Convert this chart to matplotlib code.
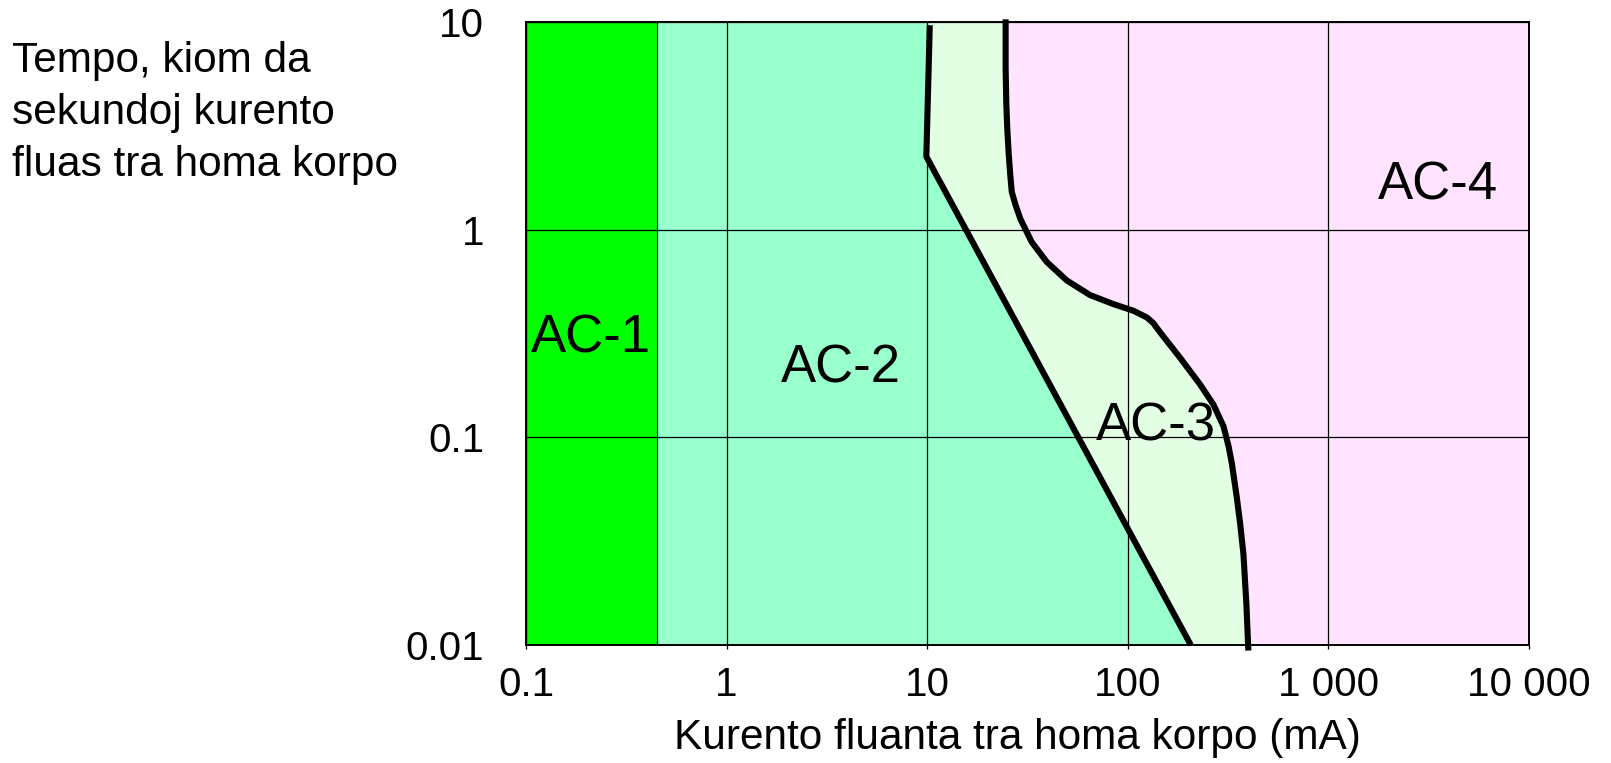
import matplotlib
matplotlib.use("Agg")
import matplotlib.pyplot as plt

plt.rcParams["font.family"] = ["Liberation Sans", "DejaVu Sans"]

# axis ranges (mA, s)
x_lim = [0.1, 10000]
y_lim = [0.01, 10]
x_ticks = [0.1, 1, 10, 100, 1000, 10000]
x_tick_labels = ["0.1", "1", "10", "100", "1 000", "10 000"]
y_ticks = [0.01, 0.1, 1, 10]
y_tick_labels = ["0.01", "0.1", "1", "10"]

# AC-1 upper limit (mA)
ac1_max = 0.45

# boundary AC-2 / AC-3 (curve b)
b_x = [10.3, 9.9, 206]
b_y = [9.65, 2.25, 0.01]

# boundary AC-3 / AC-4 (curve c)
c_x = [24.6, 24.6, 24.8, 25.1, 25.5, 25.9, 26.4, 27.6, 29.1, 33.2, 39.5, 49.7,
       64.9, 84.8, 106.6, 124.4, 134, 145, 182, 229, 267, 300, 318, 330, 349,
       363, 377, 390, 399]
c_y = [10.3, 6.0, 4.0, 3.0, 2.3, 1.87, 1.52, 1.31, 1.13, 0.871, 0.698, 0.569,
       0.484, 0.438, 0.407, 0.378, 0.355, 0.320, 0.242, 0.180, 0.144, 0.113,
       0.0904, 0.0751, 0.0518, 0.0385, 0.0275, 0.0158, 0.0094]

zone_names = ["AC-1", "AC-2", "AC-3", "AC-4"]
zone_colors = ["#00FF00", "#99FFCC", "#E3FFE3", "#FFE3FF"]

fig = plt.figure(figsize=(16.11, 7.63), dpi=100)
ax = fig.add_axes([526 / 1611, 1 - 645 / 763, 1003 / 1611, 623 / 763])
ax.set_xscale("log"); ax.set_yscale("log")
ax.set_xlim(*x_lim); ax.set_ylim(*y_lim)

# zones
ax.axvspan(x_lim[0], ac1_max, facecolor=zone_colors[0], edgecolor="black",
           lw=0.8, zorder=1)
ax.fill([ac1_max, b_x[0], *b_x, ac1_max], [y_lim[1], y_lim[1], *b_y, y_lim[0]],
        color=zone_colors[1], lw=0, zorder=0.9)
ax.fill([b_x[0], *b_x, *c_x[::-1]], [y_lim[1], *b_y, *c_y[::-1]],
        color=zone_colors[2], lw=0, zorder=0.9)
ax.fill([*c_x, x_lim[1], x_lim[1]], [*c_y, y_lim[0], c_y[0]],
        color=zone_colors[3], lw=0, zorder=0.9)

# boundary curves
for xs, ys in [(b_x, b_y), (c_x, c_y)]:
    ax.plot(xs, ys, color="black", lw=4.4, solid_capstyle="butt",
            solid_joinstyle="round", zorder=3, clip_on=False)

ax.set_axisbelow(False)
ax.grid(True, which="major", color="black", lw=0.9)
ax.minorticks_off()
ax.set_xticks(x_ticks, x_tick_labels)
ax.set_yticks(y_ticks, y_tick_labels)
ax.tick_params(axis="x", length=3, width=0.9, pad=12, labelsize=29)
ax.tick_params(axis="y", length=0, pad=30, labelsize=29)
for s in ax.spines.values():
    s.set_linewidth(1.4)

# zone labels
lab_pos = [(0.21, 0.30), (3.7, 0.215), (138, 0.113), (3500, 1.64)]
for name, (lx, ly) in zip(zone_names, lab_pos):
    ax.text(lx, ly, name, fontsize=38, ha="center", va="center", zorder=4)

ax.set_xlabel("Kurento fluanta tra homa korpo (mA)", fontsize=30.5)
ax.xaxis.set_label_coords((1017 - 526) / 1003, -(738 - 645) / 623)
ax.xaxis.label.set_va("center")

fig.text(12 / 1611, 1 - 113 / 763,
         "Tempo, kiom da\nsekundoj kurento\nfluas tra homa korpo",
         fontsize=30.5, ha="left", va="center", linespacing=1.38)

fig.savefig("out.png", dpi=100)
